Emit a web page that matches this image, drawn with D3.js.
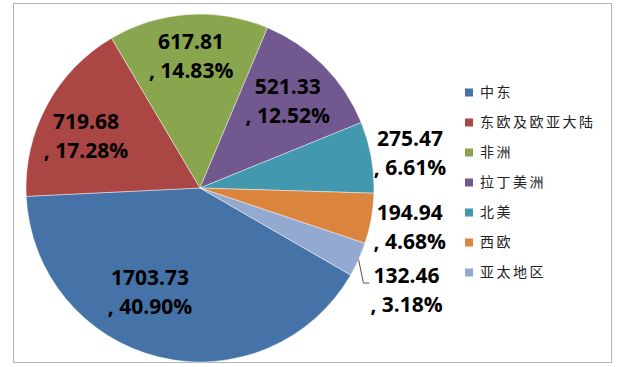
<!DOCTYPE html>
<html>
<head>
<meta charset="utf-8">
<script src="https://cdnjs.cloudflare.com/ajax/libs/d3/7.8.5/d3.min.js"></script>
<style>
html,body{margin:0;padding:0;background:#fff;}
svg{display:block;}
</style>
</head>
<body>
<svg id="chart" width="620" height="367"></svg>
<script>
// ---- data ----
const categories = ["中东", "东欧及欧亚大陆", "非洲", "拉丁美洲", "北美", "西欧", "亚太地区"];
const values = [1703.73, 719.68, 617.81, 521.33, 275.47, 194.94, 132.46];
const percents = ["40.90%", "17.28%", "14.83%", "12.52%", "6.61%", "4.68%", "3.18%"];
const colors = ["#4572A7", "#AA4643", "#89A54E", "#71588F", "#4198AF", "#DB843D", "#93A9CF"];

// label layout: [radius factor, angle nudge (deg), leader line?]
const labelLayout = [[0.666, 12, false], [0.72, -3.9, false], [0.76, 0, false], [0.709, 0, false],
                     [1.223, 0.8, false], [1.226, 0.4, false], [1.323, 1.9, true]];

const svg = d3.select("#chart");
const W = 620, H = 367;

// outer border
svg.append("rect").attr("x", 13.5).attr("y", 3.5).attr("width", 598).attr("height", 359)
  .attr("fill", "#fff").attr("stroke", "#b5b5b5").attr("stroke-width", 1);

const cx = 200, cy = 188, R = 174;
const g = svg.append("g").attr("transform", `translate(${cx},${cy})`);

const startA = 120 * Math.PI / 180;
const pie = d3.pie().sort(null).value(d => d.v).startAngle(startA).endAngle(startA + 2 * Math.PI);
const data = categories.map((c, i) => ({ c, v: values[i], p: percents[i], i }));
const arcs = pie(data);
const arc = d3.arc().innerRadius(0).outerRadius(R);

g.selectAll("path.slice").data(arcs).enter().append("path")
  .attr("class", "slice")
  .attr("d", arc)
  .attr("fill", d => colors[d.data.i])
  .attr("stroke", "rgba(255,255,255,0.55)")
  .attr("stroke-width", 0.8);

// labels
const lineGap = 29;
arcs.forEach(d => {
  const [rf, nudge, leader] = labelLayout[d.data.i];
  const mid = (d.startAngle + d.endAngle) / 2;
  const a = mid + nudge * Math.PI / 180;
  const lx = Math.sin(a) * R * rf;
  const ly = -Math.cos(a) * R * rf;
  const t = g.append("text")
    .attr("text-anchor", "middle")
    .attr("font-family", "'Open Sans', 'Noto Sans', sans-serif")
    .attr("font-weight", "bold")
    .attr("font-size", 21)
    .attr("fill", "#000");
  t.append("tspan").attr("x", lx).attr("y", ly - lineGap / 2 + 7.5).text(d.data.v.toFixed(2));
  t.append("tspan").attr("x", lx).attr("y", ly + lineGap / 2 + 7.5).text(", " + d.data.p);
  if (leader) {
    const bb = t.node().getBBox();
    const ex = Math.sin(mid) * R, ey = -Math.cos(mid) * R;
    const yL = ly - lineGap / 2 + 8;
    const left = bb.x;
    g.insert("path", "text")
      .attr("d", `M${ex},${ey}L${left - 7},${yL}L${left - 1},${yL}`)
      .attr("fill", "none").attr("stroke", "#555").attr("stroke-width", 1);
  }
});

// legend
const legend = svg.append("g");
const ly0 = 92.5, lstep = 30;
categories.forEach((c, i) => {
  const y = ly0 + i * lstep;
  legend.append("rect").attr("x", 465).attr("y", y - 4).attr("width", 8).attr("height", 8)
    .attr("fill", colors[i]);
  legend.append("text").attr("x", 480).attr("y", y).attr("dy", "0.35em")
    .attr("font-family", "'Noto Sans CJK SC', sans-serif")
    .attr("font-size", 14).attr("letter-spacing", 2.5)
    .attr("fill", "#222").text(c);
});
</script>
</body>
</html>
